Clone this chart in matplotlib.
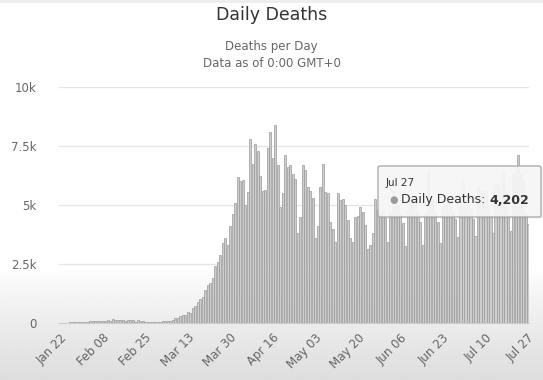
import numpy as np
import pandas as pd
import matplotlib
matplotlib.use("Agg")
import matplotlib.pyplot as plt
from matplotlib.patches import FancyBboxPatch

plt.rcParams['font.family'] = ['DejaVu Sans']

# ---- data -------------------------------------------------------------
start_date = "2020-01-22"
deaths = [
    # Jan 22 - Feb 04
    17, 8, 16, 15, 24, 26, 26, 38, 43, 46, 45, 57, 64, 66,
    # Feb 05 - Feb 24
    73, 73, 86, 89, 97, 108, 97, 150, 121, 143, 142, 106, 98, 139, 115, 125, 40, 107, 100, 90,
    # Feb 25 - Feb 29
    25, 30, 25, 30, 35,
    # Mar 01 - Mar 06
    45, 60, 70, 80, 90, 100,
    # Mar 07 - Mar 20
    110, 230, 210, 280, 330, 350, 450, 410, 630, 740, 870, 1000, 1120, 1390,
    # Mar 21 - Apr 15
    1600, 1700, 1900, 2400, 2600, 2900, 3400, 3600, 3300, 4100, 4600, 5100, 6200,
    6000, 6050, 5000, 5550, 7800, 6750, 7600, 7300, 6250, 5600, 5650, 7400, 8100,
    # Apr 16 - May 04
    7000, 8400, 6700, 4900, 5500, 7100, 6600, 6700, 6300, 6100, 3800, 4500, 6700,
    6500, 5750, 5600, 5300, 3600, 4100,
    # May 05 - May 27
    5750, 6750, 5550, 5500, 4300, 4000, 3450, 5500, 5200, 5250, 5000, 4350, 3600,
    3450, 4500, 4550, 4900, 4700, 4150, 3150, 3300, 3800, 5250,
    # May 28 - Jul 27
    4800, 4600, 4700, 4450, 3450, 4700, 5600, 5300, 5000, 4600, 4250, 3250,
    4800, 5300, 5300, 5100, 4600, 4300, 3300, 4600, 6500, 5200, 5200, 4700,
    4300, 3400, 4900, 5400, 5300, 5400, 4700, 4400, 3650, 5000, 6000, 5200,
    5200, 4800, 4400, 3700, 5800, 5600, 5400, 5600, 5000, 4500, 3800, 5900,
    5900, 5700, 6400, 5600, 4600, 3900, 6300, 6400, 7100, 6300, 6000, 4600, 4202,
]
tick_labels = ["Jan 22", "Feb 08", "Feb 25", "Mar 13", "Mar 30", "Apr 16",
               "May 03", "May 20", "Jun 06", "Jun 23", "Jul 10", "Jul 27"]
y_ticks = [0, 2500, 5000, 7500, 10000]
y_tick_labels = ["0", "2.5k", "5k", "7.5k", "10k"]
title = "Daily Deaths"
subtitle = "Deaths per Day\nData as of 0:00 GMT+0"
series_name = "Daily Deaths"

dates = pd.date_range(start_date, periods=len(deaths), freq="D")
x = np.arange(len(deaths))
tick_pos = [i for i, d in enumerate(dates) if d.strftime("%b %d") in tick_labels]

# ---- figure -------------------------------------------------------------
W, H = 543, 380
fig = plt.figure(figsize=(W / 100, H / 100), dpi=100)

# background gradient (white top, grey bottom)
bg = fig.add_axes([0, 0, 1, 1], zorder=-10)
rows = np.linspace(0, 1, H)  # 0 at top
vals = np.ones(H)
ystart = 270 / H
mask = rows > ystart
vals[mask] = 1 - 0.13 * ((rows[mask] - ystart) / (1 - ystart)) ** 0.8
vals[:3] = 0.93
grad = np.tile(vals[:, None], (1, 10))
bg.imshow(grad, aspect="auto", extent=[0, 1, 0, 1], cmap="gray", vmin=0, vmax=1,
          interpolation="bilinear")
bg.axis("off")

left, right = 58.8 / W, 529.3 / W
bottom, top = (H - 323) / H, (H - 87) / H
ax = fig.add_axes([left, bottom, right - left, top - bottom])
ax.patch.set_alpha(0)

ax.bar(x, deaths, width=0.82, color="#cdcdcd", edgecolor="#9a9a9a", linewidth=0.5, zorder=3)

ax.set_xlim(-0.5, len(deaths) - 0.5)
ax.set_ylim(0, 10000)
ax.set_yticks(y_ticks)
ax.set_yticklabels(y_tick_labels)
ax.set_xticks(tick_pos)
ax.set_xticklabels(tick_labels, rotation=45, ha="right", rotation_mode="anchor")

ax.grid(axis="y", color="#e6e6e6", linewidth=1, zorder=0)
ax.set_axisbelow(True)
for s in ["top", "right", "left"]:
    ax.spines[s].set_visible(False)
ax.spines["bottom"].set_color("#cccccc")
ax.tick_params(axis="y", length=0, labelsize=8.5, labelcolor="#666666", pad=16)
ax.tick_params(axis="x", length=0, labelsize=8.5, labelcolor="#666666", pad=6)

fig.text(0.5, 1 - 15 / H, title, ha="center", va="center", fontsize=12.5, color="#333333")
fig.text(0.5, 1 - 55 / H, subtitle, ha="center", va="center", fontsize=8.5,
         color="#666666", linespacing=1.35)

# ---- tooltip ------------------------------------------------------------
bx0, bx1, by0, by1 = 378 / W, 541 / W, 1 - 217 / H, 1 - 166 / H
shadow = FancyBboxPatch((bx0 + 1.5 / W, by0 - 1.5 / H), bx1 - bx0, by1 - by0,
                        boxstyle="round,pad=0,rounding_size=0.004",
                        transform=fig.transFigure, facecolor="#000000", alpha=0.06,
                        edgecolor="none", zorder=5)
box = FancyBboxPatch((bx0, by0), bx1 - bx0, by1 - by0,
                     boxstyle="round,pad=0,rounding_size=0.004",
                     transform=fig.transFigure, facecolor="#f7f7f7", alpha=0.93,
                     edgecolor="#a8a8a8", linewidth=1, zorder=6)
fig.patches.extend([shadow, box])
fig.text(386 / W, 1 - 183 / H, dates[-1].strftime("%b %d"), fontsize=7.5,
         color="#333333", va="center", ha="left", zorder=7)
fig.text(389 / W, 1 - 200 / H, "\u25CF", fontsize=7, color="#9a9a9a",
         va="center", ha="left", zorder=7)
t1 = fig.text(401 / W, 1 - 200 / H, series_name + ": ", fontsize=9,
              color="#333333", va="center", ha="left", zorder=7)
fig.canvas.draw()
bb = t1.get_window_extent()
fig.text(bb.x1 / W, 1 - 200 / H, f"{deaths[-1]:,}", fontsize=9, fontweight="bold",
         color="#333333", va="center", ha="left", zorder=7)

fig.savefig("out.png", dpi=100)
